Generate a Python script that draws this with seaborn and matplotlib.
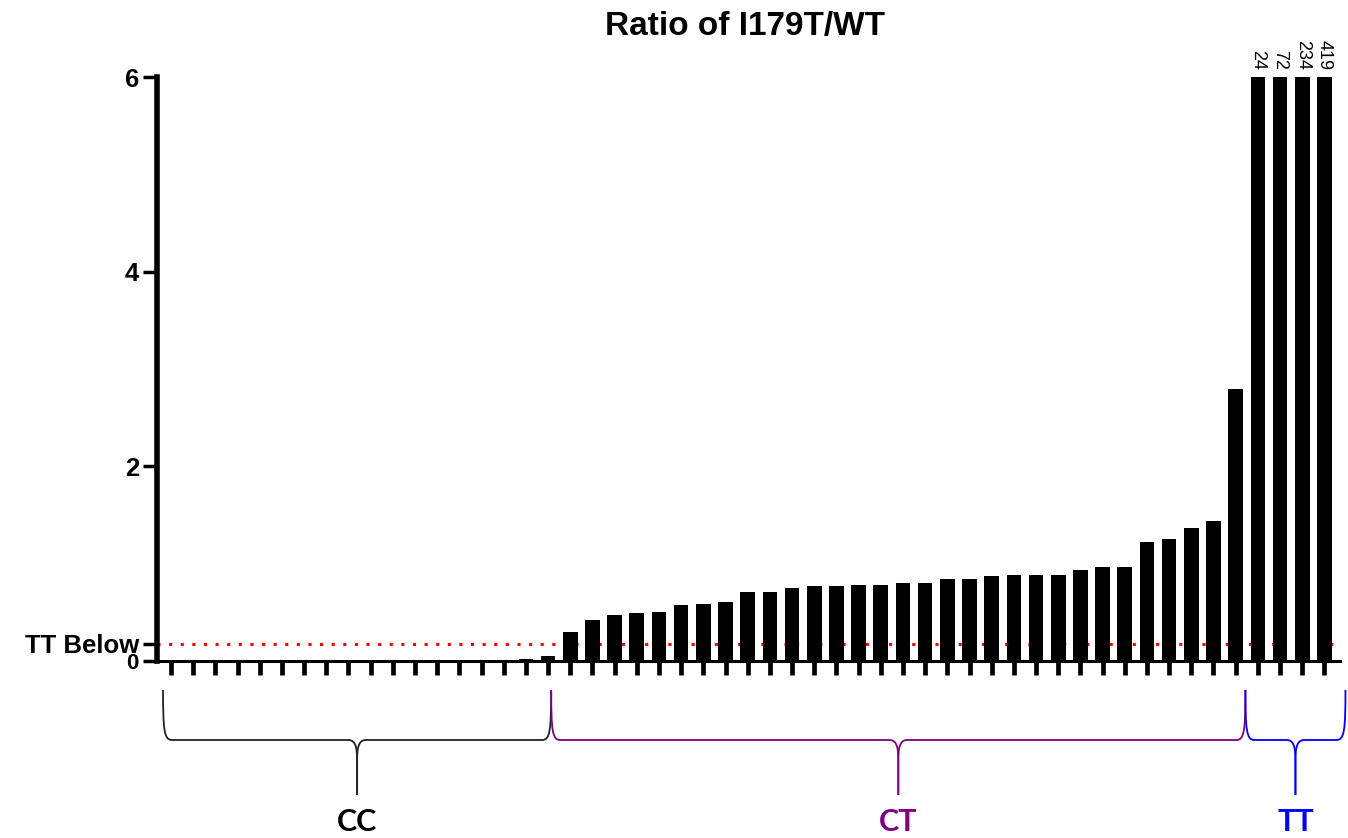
import numpy as np
import pandas as pd
import matplotlib
matplotlib.use("Agg")
import matplotlib.pyplot as plt
from matplotlib.path import Path
from matplotlib.patches import PathPatch
from matplotlib.transforms import blended_transform_factory, ScaledTranslation
import seaborn as sns

# ratio values per sample, sorted, grouped by genotype
cc_vals = [0] * 16 + [0.02, 0.05]
ct_vals = [0.30, 0.42, 0.47, 0.49, 0.51, 0.58, 0.59, 0.61, 0.71, 0.71,
           0.75, 0.77, 0.77, 0.78, 0.78, 0.80, 0.80, 0.84, 0.84, 0.87,
           0.89, 0.89, 0.89, 0.94, 0.97, 0.97, 1.22, 1.25, 1.37, 1.44, 2.80]
tt_vals = [24, 72, 234, 419]
tt_below = 0.18

groups = ["CC", "CT", "TT"]
brace_colors = ["#222222", "#800080", "#0000ff"]
label_colors = ["black", "#800080", "#0000ff"]
# brace spans along x (bar units)
brace_spans = [(-0.36, 17.14), (17.14, 48.44), (48.44, 52.95)]

values = cc_vals + ct_vals + tt_vals
genotype = ["CC"] * len(cc_vals) + ["CT"] * len(ct_vals) + ["TT"] * len(tt_vals)
df = pd.DataFrame({"sample": [f"S{i+1}" for i in range(len(values))],
                   "ratio": values, "genotype": genotype})

sns.set_style("white")
plt.rcParams['font.family'] = ['Liberation Sans', 'DejaVu Sans']
plt.rcParams['text.color'] = 'black'
plt.rcParams['ytick.color'] = 'black'
plt.rcParams['xtick.color'] = 'black'

fig = plt.figure(figsize=(13.48, 8.38), dpi=100)
ax = fig.add_axes([0.1165, 0.211, 0.994 - 0.1165, 0.908 - 0.211])

sns.barplot(data=df, x="sample", y="ratio", color="black", width=0.66,
            saturation=1, edgecolor="black", linewidth=0, ax=ax, zorder=2)

ax.axhline(tt_below, color="red", linestyle=(0, (1, 2.8)), linewidth=2.2, zorder=1)

ax.set_ylim(0, 6)
ax.set_xlim(-0.63, 52.7)
ax.set_xlabel("")
ax.set_ylabel("")
ax.set_xticks(range(len(values)))
ax.set_xticklabels([])
ax.set_yticks([0, tt_below, 2, 4, 6])
ax.set_yticklabels(["0", "TT Below", "2", "4", "6"], fontweight="bold", fontsize=18.5)
lbl0, lbl_tt = ax.get_yticklabels()[0], ax.get_yticklabels()[1]
lbl0.set_fontsize(16)
lbl_tt.set_transform(lbl_tt.get_transform() + ScaledTranslation(0, 3.5 / 72, fig.dpi_scale_trans))
lbl0.set_transform(lbl0.get_transform() + ScaledTranslation(0, -2 / 72, fig.dpi_scale_trans))

ax.tick_params(axis="x", direction="out", length=10, width=3.4, color="black", bottom=True)
ax.tick_params(axis="y", direction="out", length=10, width=2.5, color="black", left=True, pad=3)

for s in ["top", "right"]:
    ax.spines[s].set_visible(False)
ax.spines["left"].set_linewidth(4)
ax.spines["bottom"].set_linewidth(2.2)
ax.spines["left"].set_color("black")
ax.spines["bottom"].set_color("black")

# labels for clipped bars
n0 = len(cc_vals) + len(ct_vals)
for i, v in enumerate(tt_vals):
    ax.text(n0 + i, 6.07, str(v), rotation=-90, ha="center", va="bottom",
            fontsize=13, clip_on=False)

fig.text(0.553, 1 - 26 / 838, "Ratio of I179T/WT", ha="center", va="center",
         fontsize=24, fontweight="bold")

# braces under the axis
tr = blended_transform_factory(ax.transData, fig.transFigure)
y_top, y_mid, y_bot = 1 - 690 / 838, 1 - 740 / 838, 1 - 795 / 838
d = 0.4
for (x0, x1), g, c, lc in zip(brace_spans, groups, brace_colors, label_colors):
    xm = (x0 + x1) / 2
    for xa, sgn in [(x0, 1), (x1, -1)]:
        verts = [(xa, y_top),
                 (xa, y_mid + 0.012), (xa + sgn * 0.05, y_mid), (xa + sgn * d, y_mid),
                 (xm - sgn * d, y_mid),
                 (xm - sgn * 0.05, y_mid), (xm, y_mid - 0.01), (xm, y_mid - 0.025),
                 (xm, y_bot)]
        codes = [Path.MOVETO, Path.CURVE4, Path.CURVE4, Path.CURVE4,
                 Path.LINETO, Path.CURVE4, Path.CURVE4, Path.CURVE4, Path.LINETO]
        patch = PathPatch(Path(verts, codes), transform=tr, facecolor="none",
                          edgecolor=c, linewidth=1.3, clip_on=False)
        fig.add_artist(patch)
    fig.text(xm, 1 - 822 / 838, g, transform=tr, ha="center", va="center",
             fontsize=22, fontweight="bold", color=lc,
             family=["Lato", "DejaVu Sans"])

fig.savefig("out.png", dpi=100)
